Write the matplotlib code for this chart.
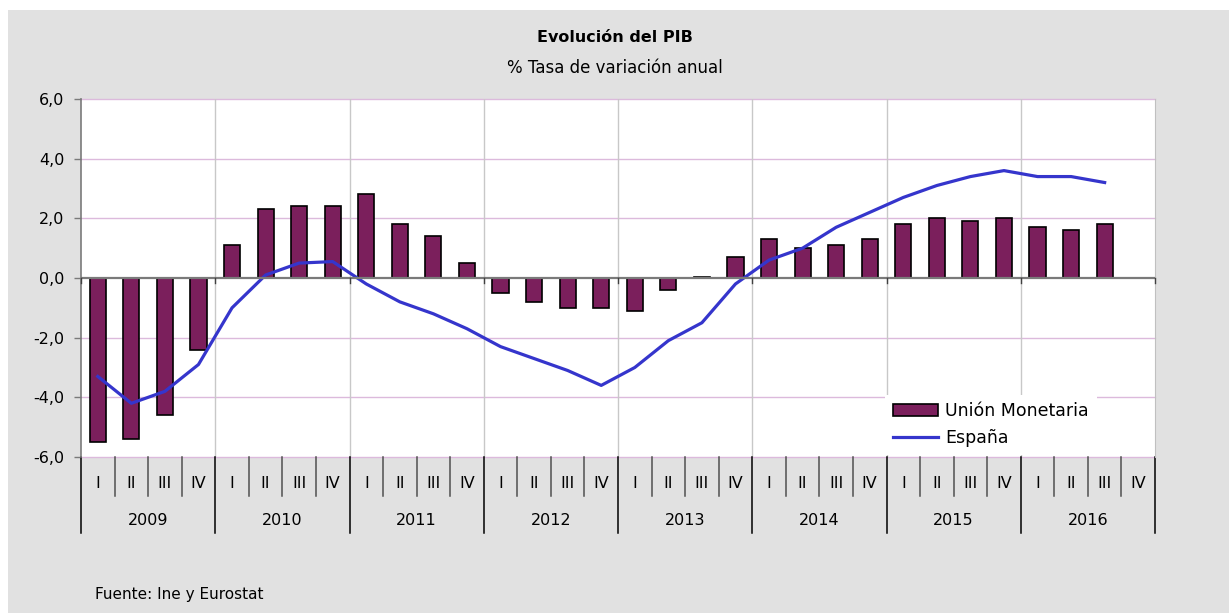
import numpy as np
import matplotlib
matplotlib.use("Agg")
import matplotlib.pyplot as plt
from matplotlib.patches import Rectangle
from matplotlib.transforms import blended_transform_factory

# datos: tasa de variación anual del PIB por trimestre (2009 I - 2016 IV)
years = ["2009", "2010", "2011", "2012", "2013", "2014", "2015", "2016"]
quarters = ["I", "II", "III", "IV"]
union_monetaria = [-5.5, -5.4, -4.6, -2.4,
                   1.1, 2.3, 2.4, 2.4,
                   2.8, 1.8, 1.4, 0.5,
                   -0.5, -0.8, -1.0, -1.0,
                   -1.1, -0.4, 0.05, 0.7,
                   1.3, 1.0, 1.1, 1.3,
                   1.8, 2.0, 1.9, 2.0,
                   1.7, 1.6, 1.8, np.nan]
espana = [-3.3, -4.2, -3.8, -2.9,
          -1.0, 0.1, 0.5, 0.55,
          -0.2, -0.8, -1.2, -1.7,
          -2.3, -2.7, -3.1, -3.6,
          -3.0, -2.1, -1.5, -0.2,
          0.6, 1.0, 1.7, 2.2,
          2.7, 3.1, 3.4, 3.6,
          3.4, 3.4, 3.2, np.nan]

BAR_COLOR = "#7b1f5c"
LINE_COLOR = "#3535cc"
BG = "#e1e1e1"
FONT = "DejaVu Sans"


def main():
    plt.rcParams["font.family"] = FONT
    fig = plt.figure(figsize=(12.29, 6.13), dpi=100, facecolor="white")
    # fondo gris del gráfico
    fig.patches.append(Rectangle((8 / 1229, 0), 1 - 8 / 1229, 1 - 10 / 613,
                                 transform=fig.transFigure, facecolor=BG,
                                 edgecolor="none", zorder=-10))

    ax = fig.add_axes([81 / 1229, 1 - 457 / 613, (1155 - 81) / 1229, (457 - 99) / 613])
    ax.set_facecolor("white")

    n = len(union_monetaria)
    x = np.arange(n)
    um = np.array(union_monetaria, dtype=float)
    es = np.array(espana, dtype=float)

    ok = ~np.isnan(um)
    bars = ax.bar(x[ok], um[ok], width=0.48, color=BAR_COLOR, edgecolor="black",
                  linewidth=1.2, zorder=3, label="Unión Monetaria")
    ok = ~np.isnan(es)
    line, = ax.plot(x[ok], es[ok], color=LINE_COLOR, linewidth=2.3, zorder=4,
                    label="España")

    ax.set_xlim(-0.5, n - 0.5)
    ax.set_ylim(-6, 6)

    # rejilla horizontal lila y vertical gris por año
    for y in [-6, -4, -2, 2, 4, 6]:
        ax.axhline(y, color="#dcbadc", linewidth=1.0, zorder=1, clip_on=False)
    for k in range(1, len(years)):
        ax.axvline(k * 4 - 0.5, color="#c8c8c8", linewidth=1.0, zorder=1)
    ax.axhline(0, color="#7a7a7a", linewidth=1.6, zorder=5)
    for k in range(len(years) + 1):
        ax.plot([k * 4 - 0.5, k * 4 - 0.5], [0, -0.17], color="#404040",
                linewidth=1.0, zorder=5, clip_on=False)

    for side in ["top", "bottom"]:
        ax.spines[side].set_visible(False)
    ax.spines["right"].set_color("#c0c0c0")
    ax.spines["left"].set_color("#7a7a7a")
    ax.spines["left"].set_linewidth(1.2)

    ax.set_yticks([-6, -4, -2, 0, 2, 4, 6])
    ax.set_yticklabels([f"{v:.1f}".replace(".", ",") for v in [-6, -4, -2, 0, 2, 4, 6]])
    ax.tick_params(axis="y", length=5, width=1.0, color="#7a7a7a", pad=7,
                   labelsize=11.5)
    ax.set_xticks([])

    # eje de categorías en dos niveles: trimestres y años
    tr = blended_transform_factory(ax.transData, ax.transAxes)
    for i in range(n + 1):
        bound = i - 0.5
        if i % 4 == 0:
            ax.plot([bound, bound], [0, -0.212], transform=tr, color="black",
                    linewidth=1.1, clip_on=False)
        else:
            ax.plot([bound, bound], [0, -0.109], transform=tr, color="#505050",
                    linewidth=1.1, clip_on=False)
    for i in range(n):
        ax.text(i, -0.073, quarters[i % 4], transform=tr, ha="center",
                va="center", fontsize=11.5)
    for k, yr in enumerate(years):
        ax.text(k * 4 + 1.5, -0.176, yr, transform=tr, ha="center",
                va="center", fontsize=11.5)

    leg = ax.legend(handles=[bars, line], loc="lower left",
                    bbox_to_anchor=(0.749, 0.006),
                    fontsize=12.5, frameon=True, fancybox=False,
                    handlelength=2.6, handletextpad=0.4, borderpad=0.45,
                    labelspacing=0.5, borderaxespad=0.0)
    leg.get_frame().set_facecolor("white")
    leg.get_frame().set_edgecolor("none")
    leg.get_frame().set_alpha(1.0)
    leg.set_zorder(6)

    fig.text(0.5, 1 - 37 / 613, "Evolución del PIB", ha="center", va="center",
             fontsize=11.5, fontweight="bold")
    fig.text(0.5, 1 - 68 / 613, "% Tasa de variación anual", ha="center",
             va="center", fontsize=12)
    fig.text(95 / 1229, 1 - 595 / 613, "Fuente: Ine y Eurostat", ha="left",
             va="center", fontsize=11)

    fig.savefig("out.png", dpi=100, facecolor=fig.get_facecolor())


if __name__ == "__main__":
    main()
